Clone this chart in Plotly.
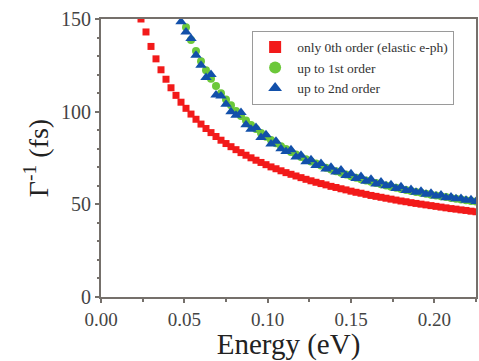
import plotly.graph_objects as go

# Energy grids (eV)
energy_red = [0.024, 0.027, 0.030, 0.033, 0.036, 0.039, 0.042, 0.045, 0.048, 0.051,
              0.054, 0.057, 0.060, 0.063, 0.066, 0.069, 0.072, 0.075, 0.078, 0.081,
              0.084, 0.087, 0.090, 0.093, 0.096, 0.099, 0.102, 0.105, 0.108, 0.111,
              0.114, 0.117, 0.120, 0.123, 0.126, 0.129, 0.132, 0.135, 0.138, 0.141,
              0.144, 0.147, 0.150, 0.153, 0.156, 0.159, 0.162, 0.165, 0.168, 0.171,
              0.174, 0.177, 0.180, 0.183, 0.186, 0.189, 0.192, 0.195, 0.198, 0.201,
              0.204, 0.207, 0.210, 0.213, 0.216, 0.219, 0.222, 0.225]
gamma_inv_0th = [150.0, 143.0, 135.2, 128.5, 122.6, 117.5, 112.9, 108.8, 105.1, 101.8,
                 98.7, 95.9, 93.3, 90.9, 88.7, 86.6, 84.6, 82.8, 81.1, 79.5,
                 77.9, 76.5, 75.1, 73.8, 72.6, 71.4, 70.2, 69.2, 68.1, 67.1,
                 66.2, 65.3, 64.4, 63.5, 62.7, 61.9, 61.2, 60.5, 59.7, 59.1,
                 58.4, 57.8, 57.1, 56.5, 56.0, 55.4, 54.8, 54.3, 53.8, 53.3,
                 52.8, 52.3, 51.8, 51.4, 50.9, 50.5, 50.1, 49.7, 49.3, 48.9,
                 48.5, 48.1, 47.7, 47.4, 47.0, 46.7, 46.3, 46.0]

energy_green = [0.051, 0.054, 0.057, 0.060, 0.063, 0.066, 0.069, 0.072, 0.075, 0.078,
                0.081, 0.084, 0.087, 0.090, 0.093, 0.096, 0.099, 0.102, 0.105, 0.108,
                0.111, 0.114, 0.117, 0.120, 0.123, 0.126, 0.129, 0.132, 0.135, 0.138,
                0.141, 0.144, 0.147, 0.150, 0.153, 0.156, 0.159, 0.162, 0.165, 0.168,
                0.171, 0.174, 0.177, 0.180, 0.183, 0.186, 0.189, 0.192, 0.195, 0.198,
                0.201, 0.204, 0.207, 0.210, 0.213, 0.216, 0.219, 0.222, 0.225]
gamma_inv_1st = [145.5, 138.7, 132.7, 127.2, 122.3, 117.8, 113.8, 110.0, 106.6, 103.4,
                 100.4, 97.7, 95.2, 92.8, 90.6, 88.5, 86.5, 84.7, 83.0, 81.3,
                 79.8, 78.3, 76.9, 75.6, 74.3, 73.1, 72.0, 70.9, 69.8, 68.8,
                 67.9, 67.0, 66.1, 65.2, 64.4, 63.6, 62.9, 62.2, 61.5, 60.8,
                 60.2, 59.5, 58.9, 58.3, 57.8, 57.2, 56.7, 56.2, 55.7, 55.2,
                 54.7, 54.3, 53.9, 53.4, 53.0, 52.6, 52.2, 51.8, 51.5]

energy_blue = [0.048, 0.051, 0.054, 0.057, 0.060, 0.063, 0.066, 0.069, 0.072, 0.075,
               0.078, 0.081, 0.084, 0.087, 0.090, 0.093, 0.096, 0.099, 0.102, 0.105,
               0.108, 0.111, 0.114, 0.117, 0.120, 0.123, 0.126, 0.129, 0.132, 0.135,
               0.138, 0.141, 0.144, 0.147, 0.150, 0.153, 0.156, 0.159, 0.162, 0.165,
               0.168, 0.171, 0.174, 0.177, 0.180, 0.183, 0.186, 0.189, 0.192, 0.195,
               0.198, 0.201, 0.204, 0.207, 0.210, 0.213, 0.216, 0.219, 0.222, 0.225]
gamma_inv_2nd = [148.5, 143.0, 139.5, 130.5, 125.0, 118.5, 120.0, 109.0, 108.5, 104.0,
                 100.0, 98.0, 99.5, 93.0, 90.5, 91.5, 86.0, 87.5, 82.5, 84.0,
                 80.0, 78.5, 79.5, 75.5, 76.5, 73.0, 74.0, 71.0, 72.0, 69.0,
                 70.0, 67.5, 68.5, 65.5, 66.5, 64.0, 65.0, 62.5, 63.5, 61.0,
                 62.0, 60.0, 60.5, 58.5, 59.5, 57.5, 58.0, 56.5, 57.0, 55.5,
                 56.0, 54.5, 55.0, 53.5, 54.0, 53.0, 53.2, 52.2, 52.5, 51.5]

series_names = ["only 0th order (elastic e-ph)", "up to 1st order", "up to 2nd order"]

SERIF = "Liberation Serif, Times New Roman, serif"
AX = "#75706b"

fig = go.Figure()
fig.add_trace(go.Scatter(x=energy_red, y=gamma_inv_0th, mode="markers", name=series_names[0],
                         marker=dict(symbol="square", size=7, color="#f21a1a")))
fig.add_trace(go.Scatter(x=energy_green, y=gamma_inv_1st, mode="markers", name=series_names[1],
                         marker=dict(symbol="circle", size=8, color="#6cc83a")))
fig.add_trace(go.Scatter(x=energy_blue, y=gamma_inv_2nd, mode="markers", name=series_names[2],
                         marker=dict(symbol="triangle-up", size=10, color="#1250aa")))

fig.update_layout(
    width=479, height=361,
    margin=dict(l=101, r=1, t=19, b=64),
    paper_bgcolor="white", plot_bgcolor="white",
    font=dict(family=SERIF, color="#333333"),
    showlegend=True,
    legend=dict(x=0.403, y=0.958, xanchor="left", yanchor="top",
                bgcolor="white", bordercolor="#9a9a9a", borderwidth=1,
                font=dict(family=SERIF, size=13.5, color="#333333"),
                itemsizing="constant", tracegroupgap=0, itemwidth=34),
)
fig.update_xaxes(
    range=[0, 0.225], tickvals=[0, 0.05, 0.10, 0.15, 0.20],
    ticktext=["0.00", "0.05", "0.10", "0.15", "0.20"],
    showline=True, linecolor=AX, linewidth=2, mirror=True,
    ticks="outside", ticklen=4, tickwidth=1.5, tickcolor=AX,
    minor=dict(ticks="outside", dtick=0.025, ticklen=2.5, tickcolor=AX, tickwidth=1.5),
    showgrid=False, zeroline=False,
    tickfont=dict(family=SERIF, size=19, color="#444444"),
    title=dict(text="Energy (eV)", font=dict(family=SERIF, size=29, color="#222222"), standoff=4),
)
fig.update_yaxes(
    range=[0, 150], tickvals=[0, 50, 100, 150],
    showline=True, linecolor=AX, linewidth=2, mirror=True,
    ticks="outside", ticklen=4, tickwidth=1.5, tickcolor=AX,
    minor=dict(ticks="outside", dtick=10, ticklen=2.5, tickcolor=AX, tickwidth=1.5),
    showgrid=False, zeroline=False,
    tickfont=dict(family=SERIF, size=20, color="#444444"),
    title=dict(text="Γ<sup>-1</sup> (fs)", font=dict(family=SERIF, size=28, color="#222222"), standoff=4),
)

fig.write_html("out.html")
